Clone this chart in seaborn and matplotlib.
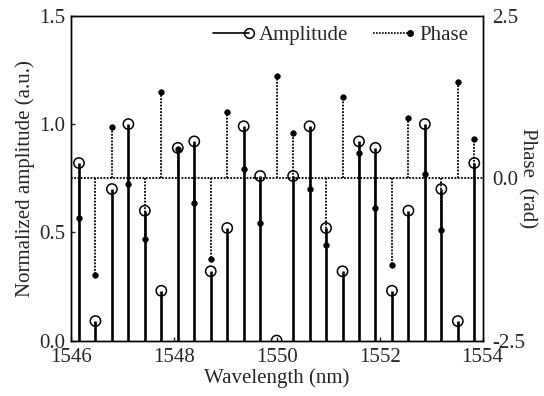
import numpy as np
import pandas as pd
import matplotlib
matplotlib.use("Agg")
import matplotlib.pyplot as plt
from matplotlib.lines import Line2D
from matplotlib.legend_handler import HandlerLine2D
import seaborn as sns

# Comb lines: 25 lines spaced 0.32 nm, centred on 1550 nm
line_index = list(range(-12, 13))
wavelength_nm = [1550 + 0.32 * k for k in line_index]

amplitude = [0.82, 0.09, 0.70, 1.00, 0.60, 0.23, 0.89, 0.92, 0.32, 0.52, 0.99, 0.76, 0.00,
             0.76, 0.99, 0.52, 0.32, 0.92, 0.89, 0.23, 0.60, 1.00, 0.70, 0.09, 0.82]

phase_rad = [-0.61, -1.49, 0.79, -0.09, -0.94, 1.33, 0.45, -0.38, -1.25, 1.02, 0.14, -0.69, 1.57,
             0.69, -0.17, -1.03, 1.25, 0.385, -0.46, -1.34, 0.92, 0.066, -0.80, 1.48, 0.61]

x_ticks = [1546, 1548, 1550, 1552, 1554]
amp_ticks = [0.0, 0.5, 1.0, 1.5]
phase_ticks = [-2.5, 0.0, 2.5]

df = pd.DataFrame({"wavelength": wavelength_nm, "amplitude": amplitude, "phase": phase_rad})

sns.set_theme(style="ticks")
plt.rcParams["font.family"] = ["Liberation Serif", "DejaVu Serif"]
plt.rcParams["xtick.direction"] = "in"
plt.rcParams["ytick.direction"] = "in"

FS = 15

fig = plt.figure(figsize=(5.44, 3.96), dpi=100)
ax = fig.add_axes([0.130, 0.140, 0.757, 0.820])
ax2 = ax.twinx()

# Amplitude stems with open circles
ax.vlines(df["wavelength"], 0, df["amplitude"], colors="black", linewidth=1.9, zorder=3)
sns.scatterplot(data=df, x="wavelength", y="amplitude", ax=ax, marker="o", s=55,
                facecolor="none", edgecolor="black", linewidth=1.1, zorder=4, legend=False)

# Phase stems (dotted) from the 0 rad baseline with filled dots
ax2.axhline(0, color="black", linestyle=(0, (1, 0.8)), linewidth=1.3, zorder=2)
ax2.vlines(df["wavelength"], 0, df["phase"], colors="black", linestyles=(0, (1, 0.8)),
           linewidth=1.3, zorder=2)
sns.scatterplot(data=df, x="wavelength", y="phase", ax=ax2, marker="o", s=16,
                color="black", edgecolor="black", linewidth=0.5, zorder=3, legend=False)

ax.set_xlim(1546, 1554)
ax.set_ylim(0, 1.5)
ax2.set_ylim(-2.5, 2.5)
ax.set_xticks(x_ticks)
ax.set_yticks(amp_ticks)
ax.set_yticklabels([f"{v:.1f}" for v in amp_ticks])
ax2.set_yticks(phase_ticks)
ax2.set_yticklabels([f"{v:.1f}" for v in phase_ticks])

ax.tick_params(axis="x", labelsize=FS, length=3, width=1, pad=5.5)
ax.tick_params(axis="y", labelsize=FS, length=3, width=1, pad=4)
ax2.tick_params(axis="y", labelsize=FS, length=0, width=1, pad=7)

# x tick labels sit on a white ground so they mask whatever lies beneath
for lbl in ax.get_xticklabels():
    lbl.set_bbox(dict(facecolor="white", edgecolor="none", pad=0))
    lbl.set_zorder(5)

ax.set_xlabel("Wavelength (nm)", fontsize=FS, labelpad=1)
ax.set_ylabel("Normalized amplitude (a.u.)", fontsize=FS, labelpad=3)
ax2.set_ylabel("Phase  (rad)", fontsize=FS, rotation=270, labelpad=8)

for a in (ax, ax2):
    for s in a.spines.values():
        s.set_color("black")
        s.set_linewidth(1.0)
        s.set_visible(True)


class EndMarkerHandler(HandlerLine2D):
    """Legend handler that places the marker at the right end of the line."""
    def create_artists(self, legend, orig_handle, xdescent, ydescent, width, height,
                       fontsize, trans):
        arts = super().create_artists(legend, orig_handle, xdescent, ydescent, width,
                                      height, fontsize, trans)
        line = arts[0]
        line.set_markevery([len(line.get_xdata()) - 1])
        return arts


h_amp = Line2D([], [], color="black", linewidth=1.2, marker="o", markersize=7,
               markerfacecolor="none", markeredgecolor="black", markeredgewidth=1.1)
h_phase = Line2D([], [], color="black", linewidth=1.2, linestyle=(0, (1, 0.8)), marker="o",
                 markersize=4, markerfacecolor="black", markeredgecolor="black")
ax2.legend([h_amp, h_phase], ["Amplitude", "Phase"], loc="upper right",
           bbox_to_anchor=(1.0, 1.015), ncol=2, frameon=False, fontsize=FS,
           handlelength=1.75, handletextpad=0.45, columnspacing=1.2, numpoints=1,
           borderaxespad=0.3, handler_map={Line2D: EndMarkerHandler()})

fig.savefig("out.png", dpi=100)
